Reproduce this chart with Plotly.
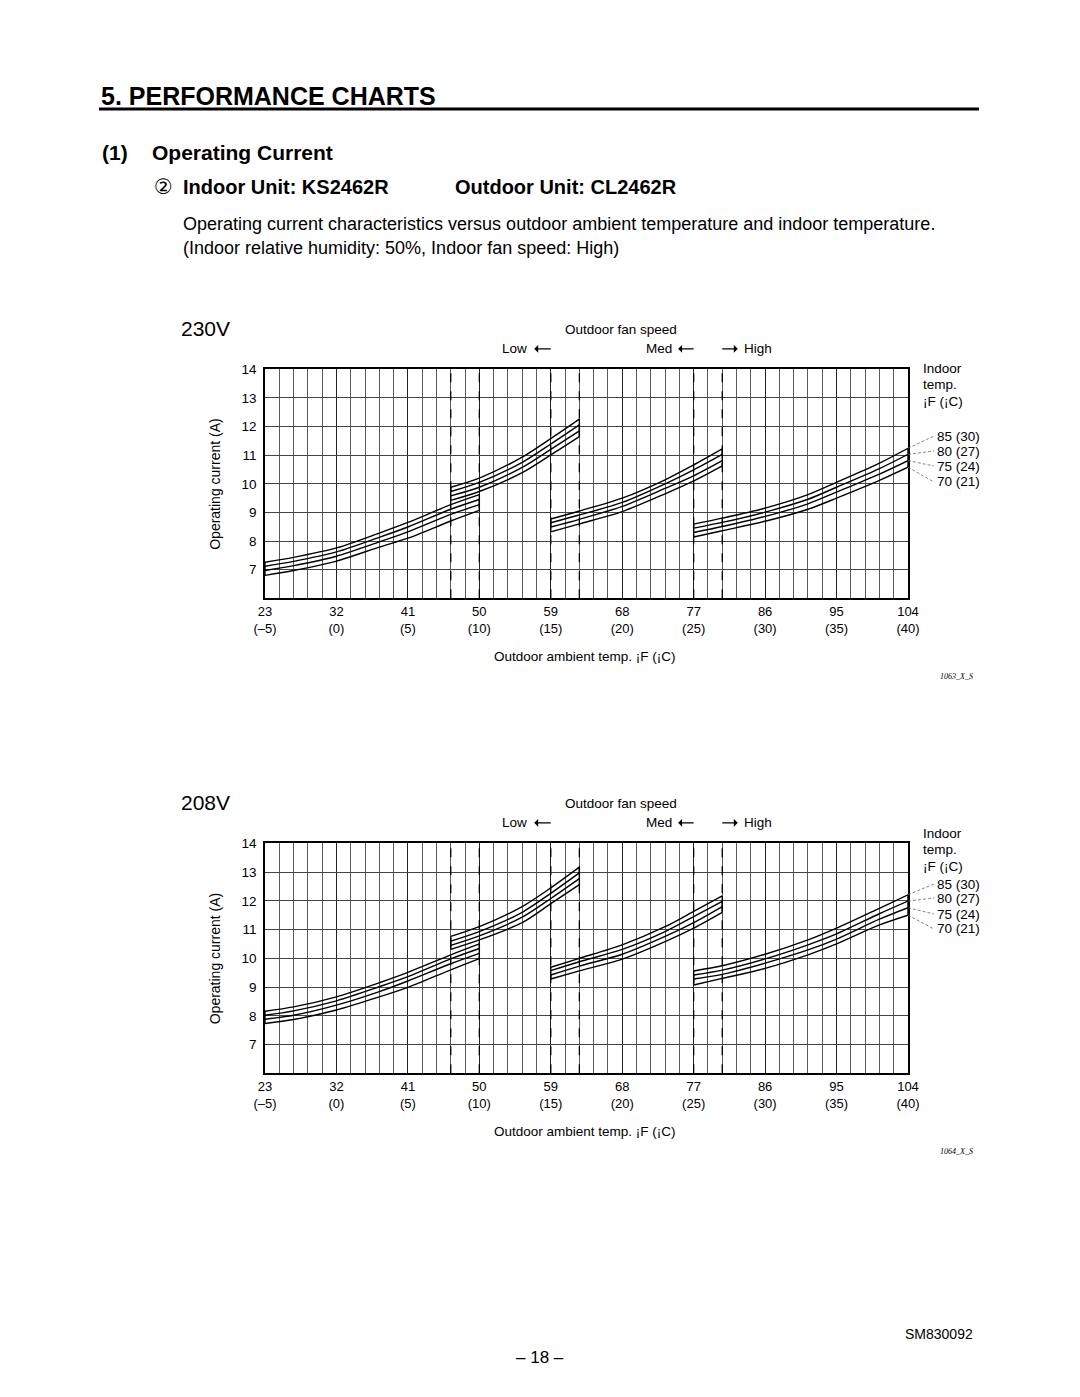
import plotly.graph_objects as go

W, H = 1080, 1397
FONT = "Liberation Sans"

# ---------------- data ----------------
x_ticks_c = [-5, 0, 5, 10, 15, 20, 25, 30, 35, 40]
x_ticks_f_lbl = ["23", "32", "41", "50", "59", "68", "77", "86", "95", "104"]
x_ticks_c_lbl = ["(–5)", "(0)", "(5)", "(10)", "(15)", "(20)", "(25)", "(30)", "(35)", "(40)"]
y_ticks = [7, 8, 9, 10, 11, 12, 13, 14]

indoor_f = [85, 80, 75, 70]
indoor_c = [30, 27, 24, 21]

# outdoor temp (°C) sample points for the four fan-speed segments
seg_x = [
    [-5, -3, 0, 3, 5, 8, 10],
    [8, 10, 13, 15, 17],
    [15, 17, 20, 23, 25, 27],
    [25, 27, 30, 33, 35, 38, 40],
]
fan_switch_c = [8, 10, 15, 17, 25, 27]

# 230 V operating current (A), per indoor temp, per segment
i230_85 = [[7.26, 7.43, 7.76, 8.28, 8.65, 9.27, 9.62], [9.88, 10.20, 10.93, 11.58, 12.26],
           [8.77, 9.05, 9.50, 10.14, 10.66, 11.22], [8.59, 8.80, 9.15, 9.62, 10.05, 10.72, 11.24]]
i230_80 = [[7.12, 7.29, 7.62, 8.13, 8.49, 9.11, 9.45], [9.73, 10.05, 10.75, 11.39, 12.06],
           [8.64, 8.91, 9.35, 10.00, 10.49, 11.03], [8.45, 8.65, 9.01, 9.46, 9.88, 10.53, 11.03]]
i230_75 = [[6.97, 7.14, 7.47, 7.97, 8.32, 8.93, 9.27], [9.58, 9.88, 10.57, 11.20, 11.85],
           [8.49, 8.76, 9.21, 9.84, 10.28, 10.81], [8.30, 8.51, 8.86, 9.30, 9.71, 10.34, 10.81]]
i230_70 = [[6.80, 6.97, 7.30, 7.79, 8.10, 8.70, 9.07], [9.42, 9.73, 10.39, 11.01, 11.65],
           [8.32, 8.60, 9.03, 9.65, 10.10, 10.63], [8.14, 8.36, 8.69, 9.11, 9.50, 10.12, 10.58]]

# 208 V operating current (A)
i208_85 = [[8.16, 8.31, 8.66, 9.15, 9.51, 10.12, 10.50], [10.76, 11.10, 11.80, 12.45, 13.17],
           [9.69, 10.00, 10.47, 11.10, 11.63, 12.17], [9.56, 9.74, 10.14, 10.64, 11.05, 11.74, 12.21]]
i208_80 = [[8.02, 8.17, 8.52, 9.01, 9.36, 9.98, 10.34], [10.60, 10.93, 11.60, 12.26, 12.97],
           [9.57, 9.88, 10.31, 10.93, 11.45, 11.98], [9.42, 9.59, 9.98, 10.47, 10.85, 11.55, 11.99]]
i208_75 = [[7.88, 8.02, 8.37, 8.84, 9.21, 9.81, 10.17], [10.45, 10.78, 11.43, 12.08, 12.77],
           [9.42, 9.73, 10.14, 10.76, 11.24, 11.80], [9.28, 9.44, 9.83, 10.29, 10.67, 11.36, 11.76]]
i208_70 = [[7.73, 7.87, 8.20, 8.66, 8.99, 9.60, 9.99], [10.31, 10.64, 11.24, 11.90, 12.56],
           [9.28, 9.56, 9.97, 10.58, 11.05, 11.60], [9.07, 9.30, 9.65, 10.12, 10.50, 11.16, 11.50]]

# ---------------- layout constants ----------------
XMIN, XMAX = -5, 40
YMIN, YMAX = 6, 14
PX_L, PX_R = 265, 908

charts = [
    dict(volt="230V", top=369.3, bottom=598.3, series=[i230_85, i230_80, i230_75, i230_70],
         indoor_y=[368, 385, 401], label_y=[436, 451, 466, 482], code="1063_X_S", ax="x", ay="y"),
    dict(volt="208V", top=843.3, bottom=1073.3, series=[i208_85, i208_80, i208_75, i208_70],
         indoor_y=[833, 850, 866], label_y=[884, 898, 914, 929], code="1064_X_S", ax="x2", ay="y2"),
]


def px(xp):
    return xp / W


def py(yp):
    return 1 - yp / H


def ypix(v, ch):
    return ch["top"] + (YMAX - v) / (YMAX - YMIN) * (ch["bottom"] - ch["top"])


fig = go.Figure()
annotations = []
shapes = []


def txt(x, y, s, size=13.5, xanchor="left", bold=False, xref="paper", **kw):
    if bold:
        s = "<b>" + s + "</b>"
    d = dict(x=x, y=y, xref=xref, yref="paper", text=s, showarrow=False,
             xanchor=xanchor, yanchor="middle",
             font=dict(family=kw.pop("family", FONT), size=size, color="black"))
    d.update(kw)
    annotations.append(d)


# ---------------- page header ----------------
txt(px(99), py(96), "5. PERFORMANCE CHARTS", size=25, bold=True)
shapes.append(dict(type="line", xref="paper", yref="paper", x0=px(99), x1=px(979),
                   y0=py(109), y1=py(109), line=dict(color="black", width=3)))
txt(px(100), py(152), "(1)", size=21, bold=True)
txt(px(150), py(152), "Operating Current", size=21, bold=True)
txt(px(163), py(187), "②", size=21, xanchor="center", family="DejaVu Sans")
txt(px(181), py(187), "Indoor Unit: KS2462R", size=20, bold=True)
txt(px(453), py(187), "Outdoor Unit: CL2462R", size=20, bold=True)
txt(px(181), py(224), "Operating current characteristics versus outdoor ambient temperature and indoor temperature.", size=18)
txt(px(181), py(248), "(Indoor relative humidity: 50%, Indoor fan speed: High)", size=18)

# footer
txt(px(975), py(1334), "SM830092", size=14, xanchor="right")
txt(px(540), py(1357), "– 18 –", size=17, xanchor="center")

# ---------------- charts ----------------
tick_text = [f"{f}<br>{c}" for f, c in zip(x_ticks_f_lbl, x_ticks_c_lbl)]

for k, ch in enumerate(charts):
    xa, ya = ch["ax"], ch["ay"]
    axis_x = dict(domain=[px(PX_L), px(PX_R)], range=[XMIN, XMAX], anchor=ya, automargin=False,
                  tickvals=x_ticks_c, ticktext=tick_text, ticks="",
                  showgrid=True, gridcolor="#222", gridwidth=1,
                  minor=dict(dtick=1, tick0=XMIN, showgrid=True, gridcolor="#5a5a5a", gridwidth=1),
                  showline=True, linecolor="black", linewidth=1.5, mirror=True,
                  zeroline=False, tickfont=dict(family=FONT, size=13, color="black"),
                  ticklabelstandoff=0)
    axis_y = dict(domain=[py(ch["bottom"]), py(ch["top"])], range=[YMIN, YMAX], anchor=xa,
                  automargin=False,
                  tickvals=y_ticks, ticks="", showgrid=True, gridcolor="#444", gridwidth=1,
                  showline=True, linecolor="black", linewidth=1.5, mirror=True,
                  zeroline=False, tickfont=dict(family=FONT, size=13.5, color="black"),
                  ticklabelstandoff=4)
    sfx = "" if k == 0 else "2"
    fig.update_layout(**{"xaxis" + sfx: axis_x, "yaxis" + sfx: axis_y})

    # curves
    for t_i, segs in enumerate(ch["series"]):
        xs, ys = [], []
        for sx, sy in zip(seg_x, segs):
            xs += sx + [None]
            ys += sy + [None]
        fig.add_trace(go.Scatter(x=xs, y=ys, mode="lines", xaxis=xa, yaxis=ya,
                                 line=dict(color="black", width=1.4, shape="spline", smoothing=0.8),
                                 connectgaps=False, hoverinfo="skip",
                                 name=f"{indoor_f[t_i]} ({indoor_c[t_i]})"))
    # end caps joining the four curves of each segment
    for s_i, sx in enumerate(seg_x):
        for end in (0, -1):
            vals = [segs[s_i][end] for segs in ch["series"]]
            fig.add_trace(go.Scatter(x=[sx[end], sx[end]], y=[min(vals), max(vals)], mode="lines",
                                     xaxis=xa, yaxis=ya, line=dict(color="black", width=1.4),
                                     hoverinfo="skip"))
    # fan speed switch lines
    for c in fan_switch_c:
        shapes.append(dict(type="line", xref=xa, yref=ya, x0=c, x1=c, y0=YMIN, y1=YMAX,
                           layer="between", line=dict(color="black", width=1.3, dash="dash")))

    # texts
    txt(px(179), py(ch["top"] - 41), ch["volt"], size=21)
    txt(px(621), py(ch["top"] - 40), "Outdoor fan speed", xanchor="center")
    txt(px(529), py(ch["top"] - 21), "Low", xanchor="right")
    txt(px(674), py(ch["top"] - 21), "Med", xanchor="right")
    txt(px(742), py(ch["top"] - 21), "High", xanchor="left")
    for xc, dx in ((15, -18), (25, -17), (27, 17)):
        annotations.append(dict(x=xc, y=py(ch["top"] - 20.5), xref=xa, yref="paper", text="",
                                showarrow=True, ax=dx, ay=0, arrowside="start", arrowhead=2,
                                arrowsize=1.1, arrowwidth=1.3, arrowcolor="black"))
    for s, yy in zip(["Indoor", "temp.", "¡F (¡C)"], ch["indoor_y"]):
        txt(px(921), py(yy), s)
    for t_i, yy in enumerate(ch["label_y"]):
        txt(px(935), py(yy), f"{indoor_f[t_i]} ({indoor_c[t_i]})")
        endv = ch["series"][t_i][-1][-1]
        shapes.append(dict(type="line", xref="paper", yref="paper",
                           x0=px(PX_R), y0=py(ypix(endv, ch)), x1=px(934), y1=py(yy),
                           line=dict(color="#666", width=0.8, dash="3px,2px")))
    txt(px(215), py((ch["top"] + ch["bottom"]) / 2), "Operating current (A)", size=14,
        xanchor="center", textangle=-90)
    txt(px(585), py(ch["bottom"] + 58), "Outdoor ambient temp. ¡F (¡C)", xanchor="center")
    txt(px(975), py(ch["bottom"] + 78), "<i>" + ch["code"] + "</i>", size=8, xanchor="right",
        family="Liberation Serif")

fig.update_layout(width=W, height=H, margin=dict(l=0, r=0, t=0, b=0, autoexpand=False),
                  paper_bgcolor="white", plot_bgcolor="white", showlegend=False,
                  annotations=annotations, shapes=shapes)

fig.write_html("out.html", config={"displayModeBar": False},
               post_script="document.body.style.margin='0';")
